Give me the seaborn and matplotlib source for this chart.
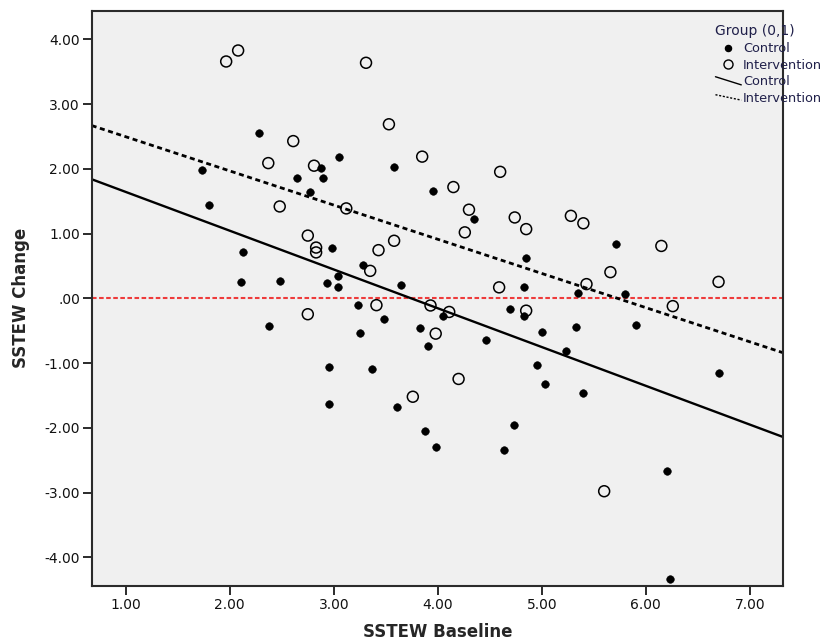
import numpy as np
import pandas as pd
import matplotlib
matplotlib.use("Agg")
import matplotlib.pyplot as plt
from matplotlib.lines import Line2D
from matplotlib.legend_handler import HandlerBase
from matplotlib.ticker import FuncFormatter
import seaborn as sns

# SSTEW baseline vs. change, by group
control_baseline = [1.73, 1.80, 2.13, 2.11, 2.28, 2.48, 2.38, 2.65, 2.77, 2.875,
                    2.90, 3.05, 2.98, 3.28, 3.04, 2.93, 3.04, 3.65, 3.58, 3.95,
                    4.35, 4.85, 4.83, 3.23, 4.05, 3.48, 3.25, 3.83, 3.91, 4.46,
                    4.69, 4.83, 5.00, 4.95, 5.03, 2.95, 3.37, 2.95, 3.61, 3.88,
                    3.98, 4.73, 4.64, 5.71, 5.35, 5.80, 5.33, 5.91, 5.23, 5.40,
                    6.70, 6.20, 6.23]
control_change = [1.99, 1.44, 0.72, 0.255, 2.55, 0.275, -0.425, 1.86, 1.64, 2.02,
                  1.86, 2.18, 0.775, 0.52, 0.35, 0.235, 0.17, 0.20, 2.03, 1.66,
                  1.22, 0.62, 0.17, -0.10, -0.28, -0.32, -0.53, -0.46, -0.73, -0.65,
                  -0.16, -0.28, -0.52, -1.03, -1.33, -1.065, -1.095, -1.63, -1.68, -2.05,
                  -2.30, -1.96, -2.35, 0.84, 0.09, 0.07, -0.44, -0.41, -0.81, -1.46,
                  -1.16, -2.67, -4.33]

intervention_baseline = [1.965, 2.08, 2.61, 2.37, 2.81, 2.48, 2.75, 2.83, 2.83, 3.31,
                         3.53, 3.85, 4.60, 4.15, 3.12, 4.30, 4.74, 4.85, 4.26, 3.58,
                         3.43, 3.35, 4.59, 3.41, 5.28, 5.40, 6.15, 5.66, 6.70, 5.43,
                         6.26, 2.75, 3.93, 4.11, 3.98, 4.85, 4.20, 3.76, 5.60]
intervention_change = [3.66, 3.83, 2.43, 2.09, 2.05, 1.42, 0.97, 0.785, 0.71, 3.64,
                       2.69, 2.19, 1.955, 1.72, 1.39, 1.37, 1.25, 1.07, 1.02, 0.89,
                       0.745, 0.425, 0.17, -0.105, 1.275, 1.16, 0.81, 0.405, 0.255, 0.22,
                       -0.12, -0.245, -0.11, -0.21, -0.545, -0.19, -1.245, -1.52, -2.98]

# Linear fit lines (intercept, slope) per group
fit_intercept = {"Control": 2.243, "Intervention": 3.025}
fit_slope = {"Control": -0.599, "Intervention": -0.528}

x_ticks = [1, 2, 3, 4, 5, 6, 7]
y_ticks = [-4, -3, -2, -1, 0, 1, 2, 3, 4]

control = pd.DataFrame({"baseline": control_baseline, "change": control_change})
intervention = pd.DataFrame({"baseline": intervention_baseline,
                             "change": intervention_change})

sns.set_style("white")
plt.rcParams["font.family"] = ["DejaVu Sans"]

ink = "#2b2b2b"
legend_ink = "#20204a"

fig = plt.figure(figsize=(8.30, 6.44), dpi=100)
ax = fig.add_axes([0.1105, 0.0905, 0.8329, 0.8924])
ax.set_facecolor("#f0f0f0")

# zero reference line
ax.axhline(0, color="#ee3b3b", lw=1.5, linestyle=(0, (2.2, 1.2)), zorder=1)

# fit lines
ax.axline((0, fit_intercept["Control"]), slope=fit_slope["Control"],
          color="black", lw=1.7, zorder=2)
ax.axline((0, fit_intercept["Intervention"]), slope=fit_slope["Intervention"],
          color="black", lw=2.0, linestyle=(0, (1.8, 1.3)), zorder=2)

sns.scatterplot(data=control, x="baseline", y="change", ax=ax,
                color="black", s=30, edgecolor="black", linewidth=0.4,
                marker="o", zorder=3, legend=False)
sns.scatterplot(data=intervention, x="baseline", y="change", ax=ax,
                facecolor="none", edgecolor="black", linewidth=1.1, s=62,
                marker="o", zorder=3, legend=False)

ax.set_xlim(0.672, 7.32)
ax.set_ylim(-4.44, 4.44)
ax.set_xticks(x_ticks)
ax.set_yticks(y_ticks)


def fmt(v, pos=None):
    s = f"{v:.2f}"
    if s.startswith("0."):
        s = s[1:]
    elif s.startswith("-0."):
        s = "-" + s[2:]
    return s


ax.xaxis.set_major_formatter(FuncFormatter(fmt))
ax.yaxis.set_major_formatter(FuncFormatter(fmt))
ax.tick_params(axis="both", which="major", direction="out", length=6.5,
               width=1.4, color=ink, labelsize=10, labelcolor="#111111", pad=2,
               left=True, bottom=True)
for sp in ax.spines.values():
    sp.set_visible(True)
    sp.set_color(ink)
    sp.set_linewidth(1.5)

ax.set_xlabel("SSTEW Baseline", fontsize=12, fontweight="bold", labelpad=8)
ax.set_ylabel("SSTEW Change", fontsize=12, fontweight="bold", labelpad=10)


class DiagonalLineHandler(HandlerBase):
    def __init__(self, drop=0.8, **kw):
        super().__init__(**kw)
        self.drop = drop

    def create_artists(self, legend, orig_handle, xdescent, ydescent,
                       width, height, fontsize, trans):
        top = height * (0.5 + self.drop / 2)
        bot = height * (0.5 - self.drop / 2)
        line = Line2D([-xdescent, -xdescent + width], [top - ydescent, bot - ydescent])
        self.update_prop(line, orig_handle, legend)
        line.set_transform(trans)
        return [line]


h_ctrl_pt = Line2D([], [], marker="o", color="black", markersize=4.4,
                   linestyle="none")
h_int_pt = Line2D([], [], marker="o", markerfacecolor="none",
                  markeredgecolor="black", markersize=6.5, markeredgewidth=1.0,
                  linestyle="none")
h_ctrl_ln = Line2D([], [], color="black", lw=1.0)
h_int_ln = Line2D([], [], color="black", lw=1.0, linestyle=(0, (1.5, 1.2)))

leg = fig.legend(
    [h_ctrl_pt, h_int_pt, h_ctrl_ln, h_int_ln],
    ["Control", "Intervention", "Control", "Intervention"],
    title="Group (0,1)", loc="upper left", bbox_to_anchor=(0.862, 0.962),
    frameon=False, fontsize=9.3, title_fontsize=10, handlelength=2.0,
    handletextpad=0.15, labelspacing=0.28, borderaxespad=0, borderpad=0,
    alignment="left",
    handler_map={h_ctrl_ln: DiagonalLineHandler(drop=0.9),
                 h_int_ln: DiagonalLineHandler(drop=0.6)})
for t in leg.get_texts():
    t.set_color(legend_ink)
leg.get_title().set_color(legend_ink)

fig.savefig("out.png", dpi=100)
